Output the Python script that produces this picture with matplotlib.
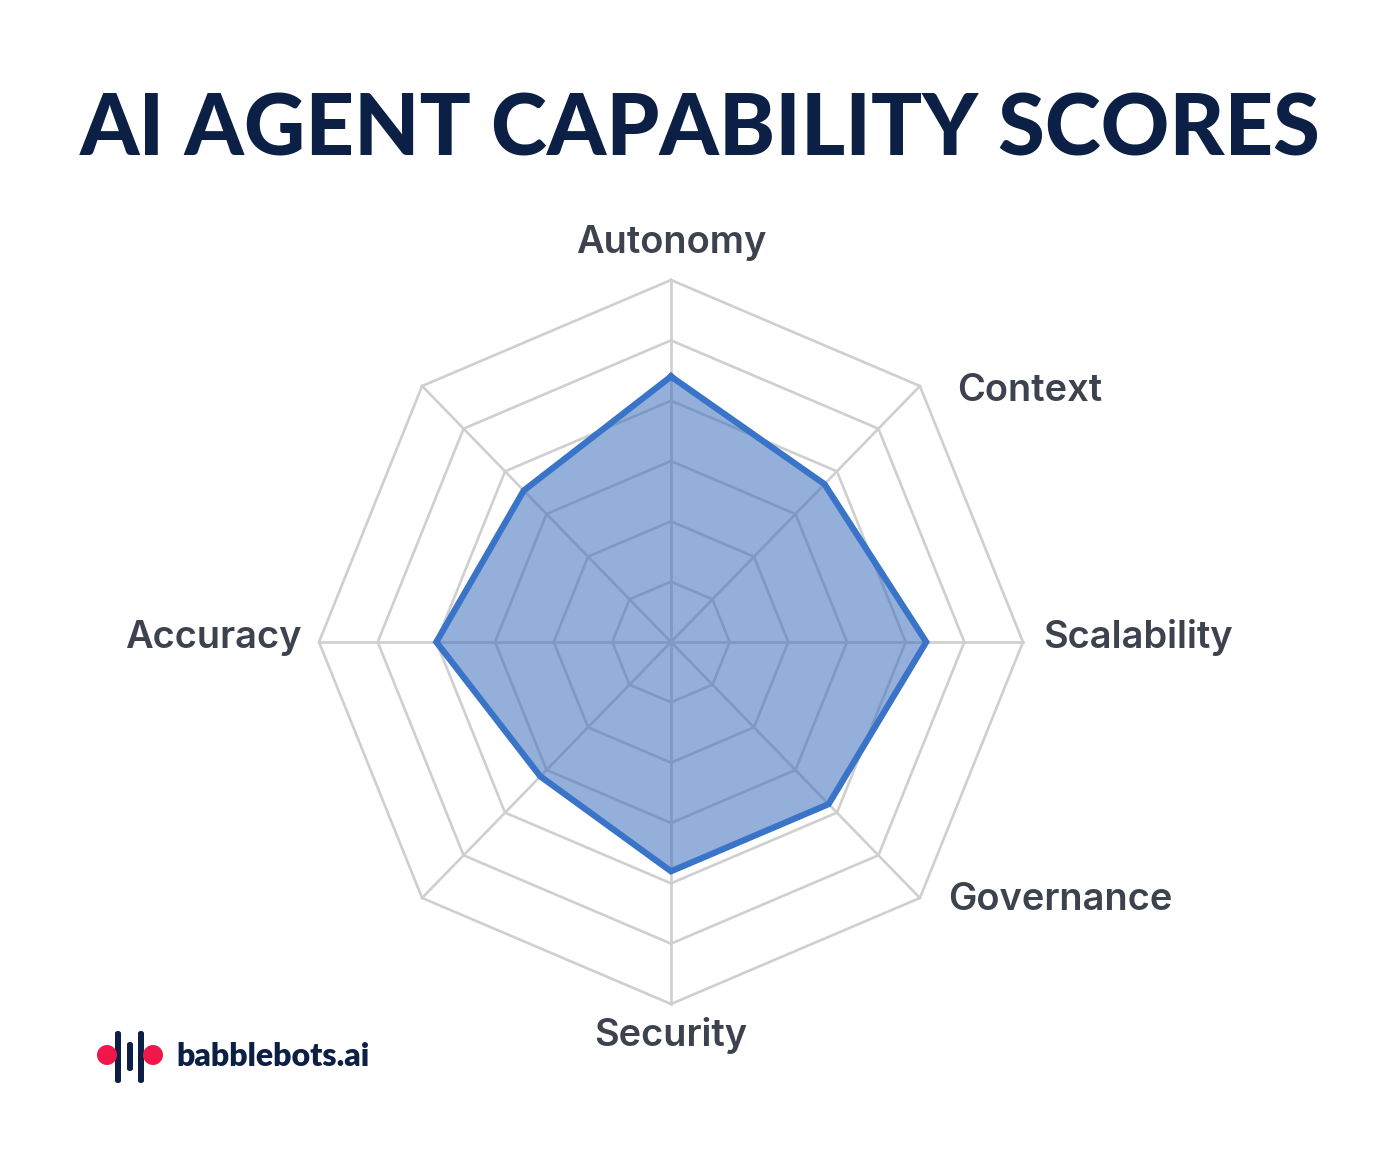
import numpy as np
import matplotlib
matplotlib.use("Agg")
import matplotlib.pyplot as plt
from matplotlib.patches import FancyBboxPatch, Ellipse

# ---- data ----
categories = ["Autonomy", "Context", "Scalability", "Governance", "Security", "", "Accuracy", ""]
scores = [88, 74, 87, 76, 76, 63, 80, 71]
ring_ticks = [20, 40, 60, 80, 100, 120]
title = "AI AGENT CAPABILITY SCORES"
brand = "babblebots.ai"

W, H = 1400, 1174
DPI = 100
fig = plt.figure(figsize=(W / DPI, H / DPI), dpi=DPI)
fig.patch.set_facecolor("white")

cx, cy = 671, 642           # centre in px from top-left
rx, ry = 352, 362           # outer radius in px
ax = fig.add_axes([(cx - rx) / W, (H - cy - ry) / H, 2 * rx / W, 2 * ry / H],
                  projection="polar")
ax.set_aspect("auto")
ax.set_theta_zero_location("N")
ax.set_theta_direction(-1)
ax.set_ylim(0, ring_ticks[-1])
ax.set_xticks([])
ax.set_yticks([])
ax.grid(False)
ax.spines["polar"].set_visible(False)
ax.patch.set_alpha(0)

n = len(categories)
angles = np.linspace(0, 2 * np.pi, n, endpoint=False)
closed = np.concatenate([angles, angles[:1]])

grid_col = "#cfcfcf"
for t in ring_ticks:
    ax.plot(closed, [t] * (n + 1), color=grid_col, lw=1.9, zorder=1,
            clip_on=False, solid_joinstyle="miter")
for a in angles:
    ax.plot([a, a], [0, ring_ticks[-1]], color=grid_col, lw=1.9, zorder=1, clip_on=False)

vals = np.array(scores + scores[:1], dtype=float)
blue = "#3a74c8"
ax.fill(closed, vals, color="#3a6dbd", alpha=0.55, zorder=2, lw=0)
ax.plot(closed, vals, color=blue, lw=4.5, zorder=3, clip_on=False,
        solid_joinstyle="miter")

# labels (offsets in px -> points)
px = 72.0 / DPI
label_style = dict(fontsize=27.4, color="#3c424e", fontweight="semibold", family=["Inter", "DejaVu Sans"])
offsets = {
    "Autonomy": ((0, 37), "center", "center"),
    "Context": ((37, -5), "left", "center"),
    "Scalability": ((20, 4), "left", "center"),
    "Governance": ((28, -2), "left", "center"),
    "Security": ((0, -32), "center", "center"),
    "Accuracy": ((-17, 4), "right", "center"),
}
for a, lab in zip(angles, categories):
    if not lab:
        continue
    (dx, dy), ha, va = offsets[lab]
    ax.annotate(lab, xy=(a, ring_ticks[-1]), xytext=(dx * px, dy * px),
                textcoords="offset points", ha=ha, va=va,
                annotation_clip=False, **label_style)

# title
fig.text(0.5, 1 - 131 / H, title, ha="center", va="center", fontsize=61,
         fontweight="black", color="#0c1f45", family=["Lato", "DejaVu Sans"])

# logo
navy = "#0c1f45"
red = "#f0184a"
def fx(x):
    return x / W
def fy(y):
    return 1 - y / H
for (x0, y0, y1) in [(118, 1031, 1083), (130, 1042, 1071), (141, 1031, 1083)]:
    fig.patches.append(FancyBboxPatch((fx(x0 - 3), fy(y1)), 6 / W, (y1 - y0) / H,
                                      boxstyle="round,pad=0,rounding_size=0.002",
                                      transform=fig.transFigure, color=navy, lw=0))
for x0 in (107, 153):
    fig.patches.append(Ellipse((fx(x0), fy(1055)), 20 / W, 20 / H,
                               transform=fig.transFigure, color=red, lw=0))
fig.text(fx(176), fy(1057), brand, ha="left", va="center", fontsize=23,
         fontweight="heavy", color=navy, family=["Lato", "DejaVu Sans"])

fig.savefig("out.png", dpi=DPI, facecolor="white")
